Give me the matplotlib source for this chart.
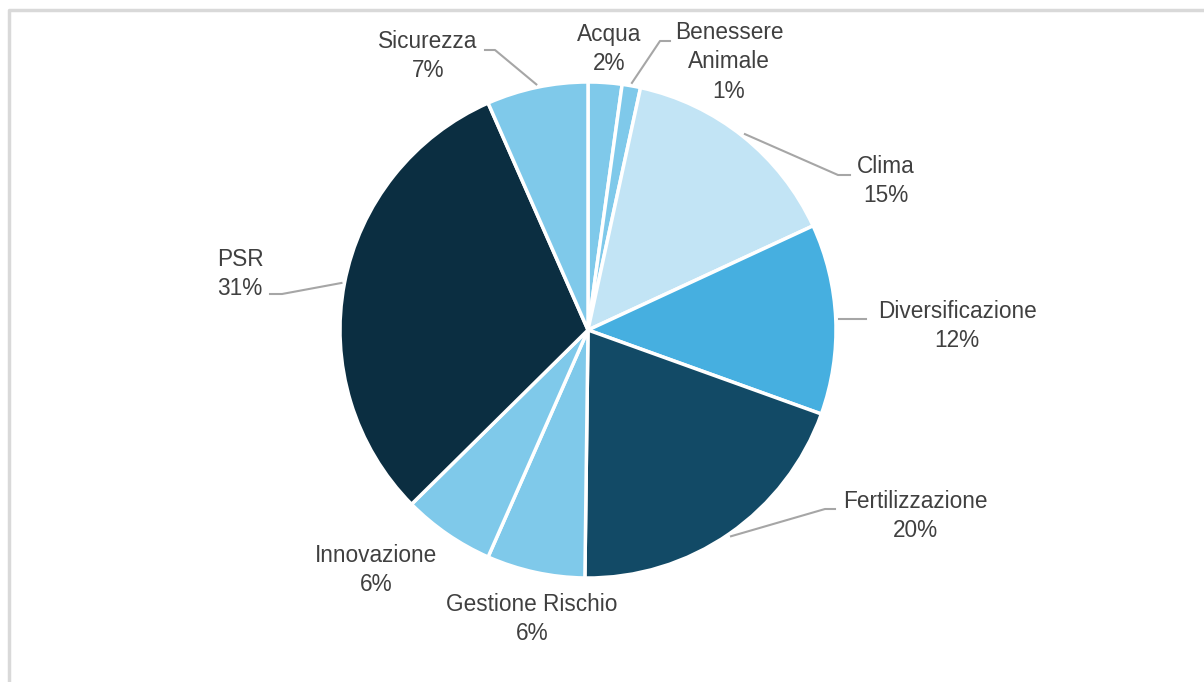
import numpy as np
import matplotlib.pyplot as plt

plt.rcParams['font.family'] = ['Liberation Sans', 'DejaVu Sans']

# Ripartizione per tema (quote percentuali)
categorie = ['Acqua', 'Benessere\nAnimale', 'Clima', 'Diversificazione',
             'Fertilizzazione', 'Gestione Rischio', 'Innovazione', 'PSR',
             'Sicurezza']
quote = [2.2, 1.2, 14.7, 12.4, 19.7, 6.4, 6.0, 30.8, 6.6]
colori = ['#7fc9ea', '#7fc9ea', '#c2e4f5', '#46afe0', '#124a66',
          '#7fc9ea', '#7fc9ea', '#0b2e41', '#7fc9ea']

# posizione delle etichette (pixel, y dall'alto) e gomito della linea guida
pos_etichette = [(609, 49), (729, 62), (886, 181), (957, 326), (915, 516),
                 (532, 619), (376, 570), (240, 274), (428, 56)]
gomiti = [None, ((660, 41), (670, 41)), ((838, 175), (850, 175)),
          ((866, None), None), ((825, 509), (835, 509)), None, None,
          ((282, 294), (270, 294)), ((495, 50), (485, 50))]

W, H = 1204, 682
fig = plt.figure(figsize=(W / 100, H / 100), dpi=100)
ax = fig.add_axes([0, 0, 1, 1])

cx, cy, r = 588, H - 330, 248
wedges, _ = ax.pie(quote, colors=colori, startangle=90, counterclock=False,
                   center=(cx, cy), radius=r,
                   wedgeprops=dict(edgecolor='white', linewidth=2.5))
ax.set_xlim(0, W)
ax.set_ylim(0, H)
ax.set_aspect('equal')
ax.axis('off')

grigio = '#a6a6a6'
for w, nome, v, (tx, ty), g in zip(wedges, categorie, quote, pos_etichette, gomiti):
    ax.text(tx, H - ty, f'{nome}\n{round(v)}%', ha='center', va='center',
            fontsize=16.3, color='#404040', linespacing=1.35)
    if g is None:
        continue
    a = np.deg2rad((w.theta1 + w.theta2) / 2)
    x0, y0 = cx + (r + 3) * np.cos(a), cy + (r + 3) * np.sin(a)
    if g[1] is None:
        # linea orizzontale semplice
        ax.plot([x0, g[0][0]], [y0, y0], color=grigio, lw=1.5)
    else:
        (ex, ey), (fx, fy) = g
        ax.plot([x0, ex, fx], [y0, H - ey, H - fy], color=grigio, lw=1.5)

# cornice del grafico (solo lati sinistro e superiore visibili)
ax.plot([9, 9, W + 10], [-10, H - 9.5, H - 9.5], color='#d9d9d9', lw=2.5,
        clip_on=False)

fig.savefig('out.png', dpi=100)
